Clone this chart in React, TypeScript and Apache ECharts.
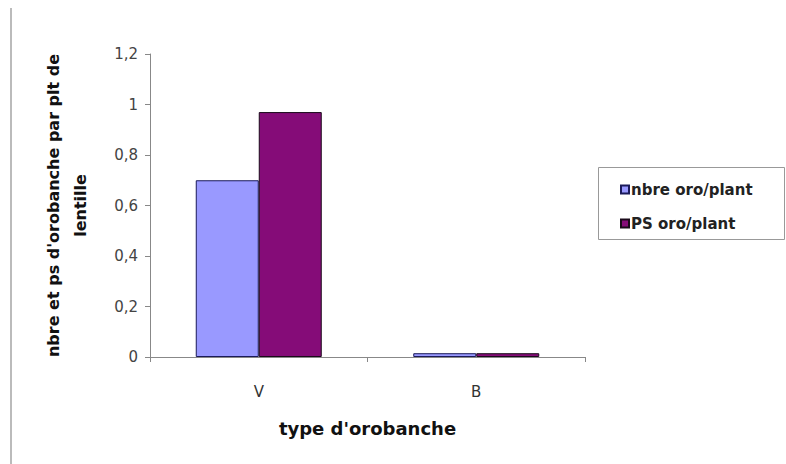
import React, { useEffect, useRef } from "react";
import * as echarts from "echarts";

const categories = ["V", "B"];
const seriesNames = ["nbre oro/plant", "PS oro/plant"];
const nbreValues = [0.7, 0.015];
const psValues = [0.97, 0.015];
const yTickLabels: Record<string, string> = { "0": "0", "0.2": "0,2", "0.4": "0,4", "0.6": "0,6", "0.8": "0,8", "1": "1", "1.2": "1,2" };

export default function App() {
  const ref = useRef<HTMLDivElement>(null);
  useEffect(() => {
    const chart = echarts.init(ref.current!, null, { renderer: "svg" });
    const font = "'DejaVu Sans', Verdana, sans-serif";
    chart.setOption({
      animation: false,
      backgroundColor: "#ffffff",
      textStyle: { fontFamily: font },
      grid: { left: 150, top: 54, width: 435, height: 303, containLabel: false },
      xAxis: {
        type: "category",
        data: categories,
        axisLine: { lineStyle: { color: "#888", width: 1 } },
        axisTick: { show: true, alignWithLabel: false, length: 5, lineStyle: { color: "#888" } },
        axisLabel: { color: "#333", fontSize: 15, margin: 27, fontFamily: font },
        name: "type d'orobanche",
        nameLocation: "middle",
        nameGap: 62,
        nameTextStyle: { color: "#111", fontSize: 18, fontWeight: "bold", fontFamily: font },
      },
      yAxis: {
        type: "value",
        min: 0,
        max: 1.2,
        interval: 0.2,
        splitLine: { show: false },
        axisLine: { show: true, lineStyle: { color: "#888" } },
        axisTick: { show: true, length: 5, lineStyle: { color: "#888" } },
        axisLabel: {
          color: "#444",
          fontSize: 15,
          margin: 12,
          fontFamily: font,
          formatter: (v: number) => yTickLabels[String(Math.round(v * 10) / 10)] ?? String(v),
        },
        name: "nbre et ps d'orobanche par plt de\nlentille",
        nameLocation: "middle",
        nameRotate: 90,
        nameGap: 56,
        nameTextStyle: { color: "#111", fontSize: 16, fontWeight: "bold", fontFamily: font, lineHeight: 27, align: "center" },
      },
      legend: {
        orient: "vertical",
        left: 615,
        top: 177,
        itemWidth: 8,
        itemHeight: 8,
        itemGap: 19,
        icon: "rect",
        textStyle: { color: "#222", fontSize: 15, fontWeight: "bold", fontFamily: font, padding: [0, 0, 0, -3] },
        data: seriesNames,
      },
      graphic: [
        { type: "rect", shape: { x: 598.5, y: 167.5, width: 186, height: 72 }, style: { fill: "none", stroke: "#999", lineWidth: 1 } },
        { type: "line", shape: { x1: 11, y1: 8, x2: 11, y2: 464 }, style: { stroke: "#bbb", lineWidth: 2 } },
      ],
      series: [
        {
          name: seriesNames[0],
          type: "bar",
          data: nbreValues,
          barWidth: 63,
          barGap: "0%",
          itemStyle: { color: "#9999ff", borderColor: "#1a1a5a", borderWidth: 1 },
        },
        {
          name: seriesNames[1],
          type: "bar",
          data: psValues,
          barWidth: 63,
          barGap: "0%",
          itemStyle: { color: "#850c78", borderColor: "#1a0a1a", borderWidth: 1 },
        },
      ],
    });
    return () => chart.dispose();
  }, []);
  return <div ref={ref} style={{ width: 786, height: 464, position: "absolute", left: 0, top: 0 }} />;
}
